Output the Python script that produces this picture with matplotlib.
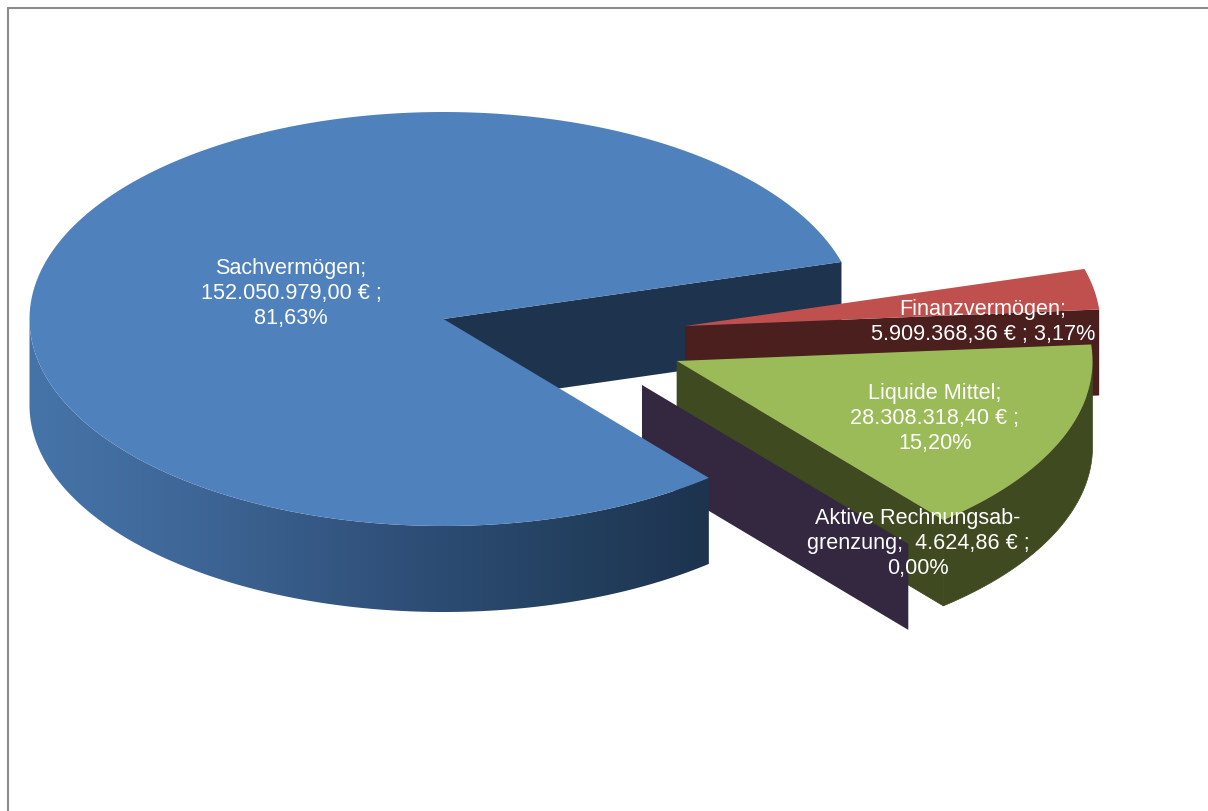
#!/usr/bin/env python3
# -*- coding: utf-8 -*-
import numpy as np
import matplotlib
matplotlib.use('Agg')
import matplotlib.pyplot as plt
from matplotlib.colors import LinearSegmentedColormap
from matplotlib.patches import Polygon

plt.rcParams['font.family'] = ['Liberation Sans', 'DejaVu Sans']

# Vermoegensstruktur in Euro
categories = ['Sachvermögen', 'Finanzvermögen', 'Liquide Mittel', 'Aktive Rechnungsabgrenzung']
values = [152050979.00, 5909368.36, 28308318.40, 4624.86]
labels = ['Sachvermögen;\n152.050.979,00 € ;\n81,63%',
          'Finanzvermögen;\n5.909.368,36 € ; 3,17%',
          'Liquide Mittel;\n28.308.318,40 € ;\n15,20%',
          'Aktive Rechnungsab-\ngrenzung;  4.624,86 € ;\n0,00%']

# perspective of the pie in pixels
RX = [414, 415.5, 415.5, 415.5]
RY = 207
DEPTH = 86
START = 16.0

top_colors = ['#4f81bd', '#c0504d', '#9bbb59', '#4f3d6b']
side_colors = ['#1d334e', '#4a1f1e', '#3f4a21', '#33283f']
centers = [(443.5, 320), (685, 327), (677, 362), (642, 386)]
label_pos = [(291, 294), (983, 322), (935, 419), (918, 544)]


def arc(i, t1, t2, n=200, dz=0):
    t = np.radians(np.linspace(t1, t2, n))
    return np.column_stack([centers[i][0] + RX[i] * np.cos(t), centers[i][1] - RY * np.sin(t) + dz])


def top_face(i, t1, t2):
    return np.vstack([[centers[i]], arc(i, t1, t2)])


def cut_wall(i, t):
    c = centers[i]
    p = arc(i, t, t, 1)[0]
    return np.array([c, p, (p[0], p[1] + DEPTH), (c[0], c[1] + DEPTH)])


def rim(i, t1, t2):
    return np.vstack([arc(i, t1, t2), arc(i, t2, t1, dz=DEPTH)])


spans = np.array(values) / sum(values) * 360.0

fig = plt.figure(figsize=(12.08, 8.12), dpi=100)
ax = fig.add_axes([0, 0, 1, 1])

# outer frame, right and bottom run off the canvas
ax.plot([8, 8, 1208], [812, 9, 9], color='#8c8c8c', linewidth=1.5, solid_joinstyle='miter', zorder=1)

t_sach_end = START + spans[0]
t_fin_end = START - spans[1]
t_liq_end = t_fin_end - spans[2]
t_akt_end = t_liq_end - spans[3]

# cut wall of Sachvermoegen lies behind the pulled out slices
ax.add_patch(Polygon(cut_wall(0, START), fc=side_colors[0], lw=0, zorder=2))

# Finanzvermoegen
ax.add_patch(Polygon(cut_wall(1, t_fin_end), fc=side_colors[1], lw=0, zorder=3))
ax.add_patch(Polygon(top_face(1, START, t_fin_end), fc=top_colors[1], lw=0, zorder=3))

# Liquide Mittel, walls get an edge so no seam shows between them
ax.add_patch(Polygon(rim(2, 0, t_liq_end), fc=side_colors[2], ec=side_colors[2], lw=0.5, zorder=4))
ax.add_patch(Polygon(cut_wall(2, t_liq_end), fc=side_colors[2], ec=side_colors[2], lw=0.5, zorder=4))
ax.add_patch(Polygon(top_face(2, t_fin_end, t_liq_end), fc=top_colors[2], lw=0, zorder=5))

# Aktive Rechnungsabgrenzung is so thin only the wall shows
ax.add_patch(Polygon(cut_wall(3, t_akt_end), fc=side_colors[3], lw=0, zorder=6))

# Sachvermoegen with shaded rim
shade = LinearSegmentedColormap.from_list('rim', [(0.0, '#4674a9'), (0.2, '#40699a'), (0.55, '#2f4f78'),
                                                  (0.8, '#23405f'), (1.0, '#1d334e')])
rim_path = Polygon(rim(0, 180, t_sach_end), fc='none', lw=0, zorder=7)
ax.add_patch(rim_path)
im = ax.imshow(np.linspace(0, 1, 256)[None, :], cmap=shade, extent=[29, 711, 620, 300],
               aspect='auto', zorder=7)
im.set_clip_path(rim_path)
ax.add_patch(Polygon(top_face(0, START, t_sach_end), fc=top_colors[0], lw=0, zorder=8))

for pos, lab in zip(label_pos, labels):
    ax.text(pos[0], pos[1], lab, color='white', fontsize=15.6, ha='center', va='center',
            linespacing=1.25, zorder=10)

ax.set_xlim(0, 1208)
ax.set_ylim(812, 0)
ax.axis('off')
fig.savefig('out.png', dpi=100, facecolor='white')
